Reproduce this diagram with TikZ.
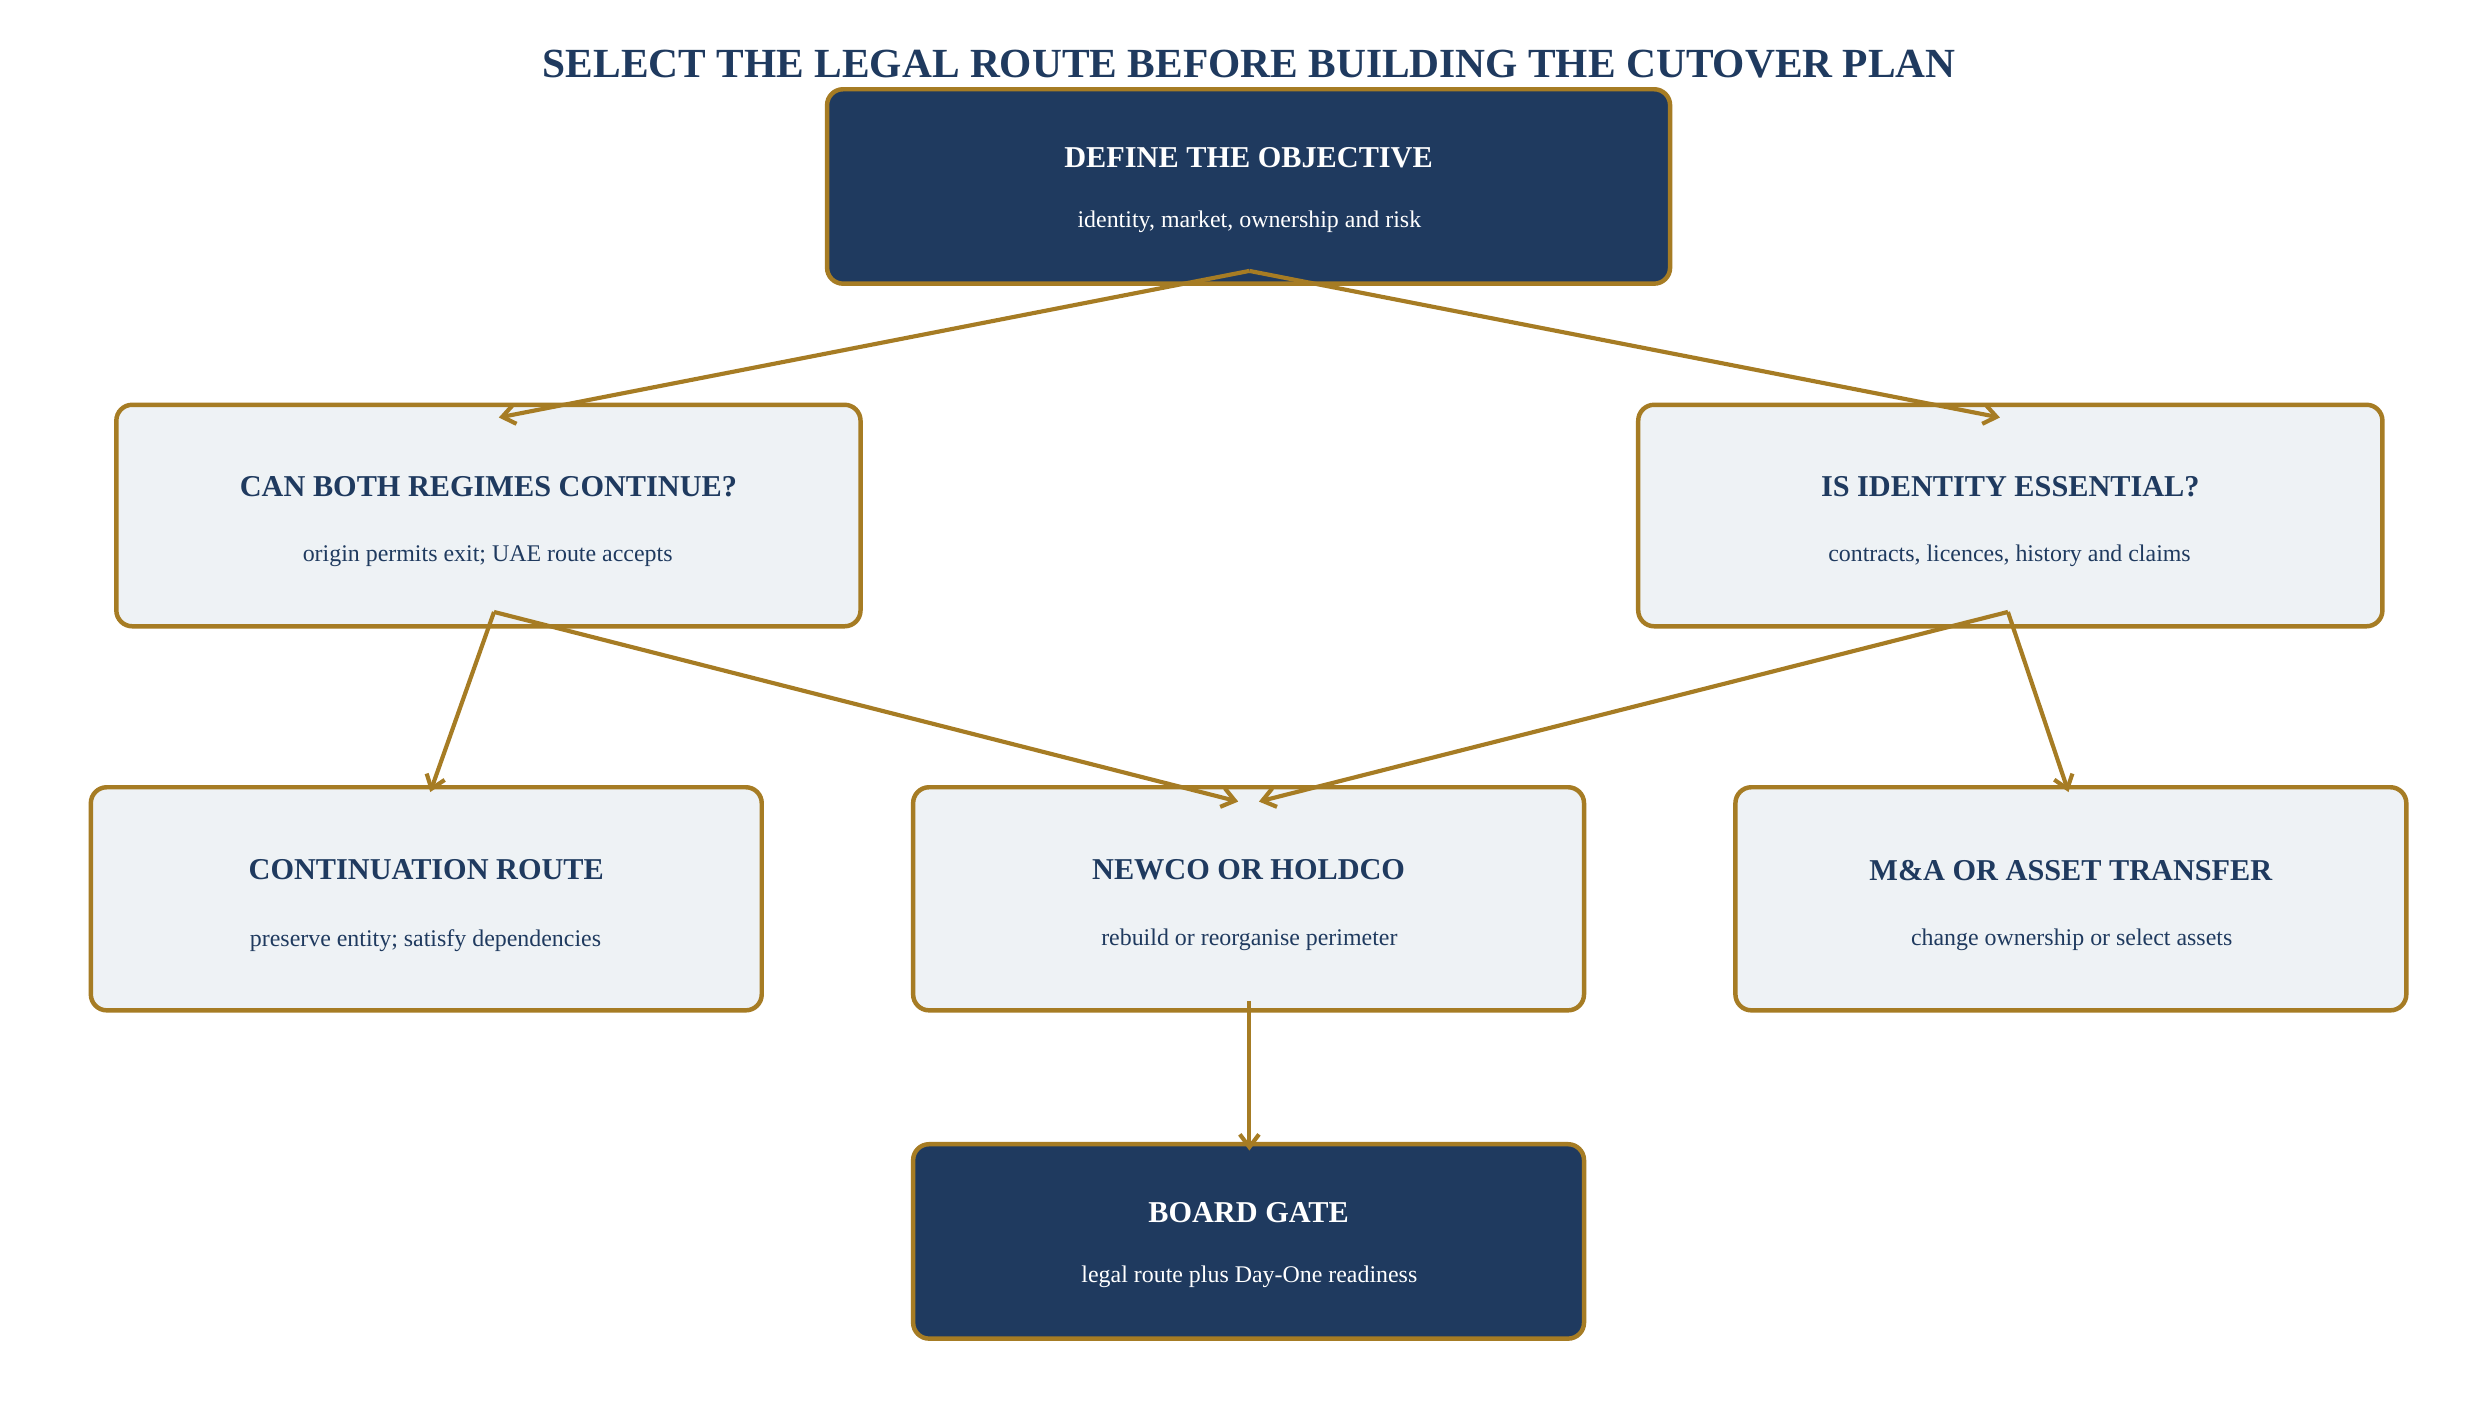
\documentclass[tikz,border=0pt]{standalone}
\usepackage{fontspec}
\setmainfont{Liberation Serif}
\usetikzlibrary{arrows.meta}
\definecolor{navy}{HTML}{1F3A5F}
\definecolor{gold}{HTML}{A67C24}
\definecolor{pale}{HTML}{EEF2F5}
\begin{document}
\begin{tikzpicture}[x=0.5pt,y=-0.5pt,
 box/.style={draw=gold,line width=1.4pt,rounded corners=5pt},
 dark/.style={box,fill=navy},
 light/.style={box,fill=pale},
 hd/.style={font=\bfseries\fontsize{9.5}{11}\selectfont},
 sb/.style={font=\fontsize{7.5}{9}\selectfont},
 arr/.style={draw=gold,line width=1.3pt,-{Straight Barb[length=4pt,width=6pt]}}]
\useasboundingbox[fill=white] (0,0) rectangle (1560,883.6);
\node[font=\bfseries\fontsize{13}{15}\selectfont,text=navy] (title) at (784,40) {SELECT THE LEGAL ROUTE BEFORE BUILDING THE CUTOVER PLAN};
\newcommand{\bx}[8]{%
 \draw[#6] (#2,#3) rectangle (#4,#5) coordinate (#1);
 \node[hd,text=#7] (#1h) at ({(#2+#4)/2},{(#3+#5)/2-18}) {#8};}
\bx{obj}{519}{56}{1048}{178}{dark}{white}{DEFINE THE OBJECTIVE}
\node[sb,text=white] (objs) at (784,139) {identity, market, ownership and risk};
\bx{lq}{73}{254}{540}{393}{light}{navy}{CAN BOTH REGIMES CONTINUE?}
\node[sb,text=navy] (lqs) at (306,349) {origin permits exit; UAE route accepts};
\bx{rq}{1028}{254}{1495}{393}{light}{navy}{IS IDENTITY ESSENTIAL?}
\node[sb,text=navy] (rqs) at (1261,349) {contracts, licences, history and claims};
\bx{co}{57}{494}{478}{634}{light}{navy}{CONTINUATION ROUTE}
\node[sb,text=navy] (cos) at (267,590) {preserve entity; satisfy dependencies};
\bx{nw}{573}{494}{994}{634}{light}{navy}{NEWCO OR HOLDCO}
\node[sb,text=navy] (nws) at (784,590) {rebuild or reorganise perimeter};
\bx{ma}{1089}{494}{1510}{634}{light}{navy}{M\&A OR ASSET TRANSFER}
\node[sb,text=navy] (mas) at (1300,590) {change ownership or select assets};
\bx{bg}{573}{718}{994}{840}{dark}{white}{BOARD GATE}
\node[sb,text=white] (bgs) at (784,801) {legal route plus Day-One readiness};
\coordinate (a0) at (784,170);
\coordinate (a1) at (313,262);
\coordinate (a2) at (1255,262);
\coordinate (b0) at (310,384);
\coordinate (b1) at (270,497);
\coordinate (b2) at (777,503);
\coordinate (c0) at (1260,384);
\coordinate (c1) at (790,503);
\coordinate (c2) at (1298,497);
\coordinate (d0) at (784,628);
\coordinate (d1) at (784,722);
\draw[arr] (a0) -- (a1);
\draw[arr] (a0) -- (a2);
\draw[arr] (b0) -- (b1);
\draw[arr] (b0) -- (b2);
\draw[arr] (c0) -- (c1);
\draw[arr] (c0) -- (c2);
\draw[arr] (d0) -- (d1);
\end{tikzpicture}
\end{document}
